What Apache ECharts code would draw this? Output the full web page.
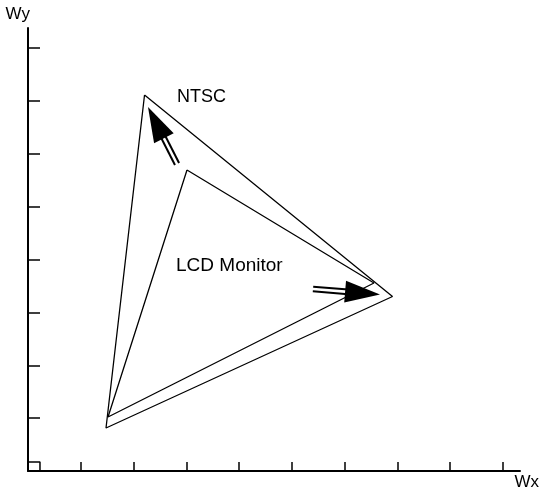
<!DOCTYPE html>
<html><head><meta charset="utf-8">
<script src="https://cdn.jsdelivr.net/npm/echarts@6/dist/echarts.min.js"></script>
<style>html,body{margin:0;padding:0;background:#fff}#c{width:540px;height:495px}</style>
</head><body><div id="c"></div>
<script>
// tick positions
const xTicks = [1, 2, 3, 4, 5, 6, 7, 8, 9];
const yTicks = [1, 2, 3, 4, 5, 6, 7, 8];
// NTSC gamut triangle (closed)
const ntscX = [2.209, 6.910, 1.479, 2.209];
const ntscY = [7.113, 3.301, 0.813, 7.113];
// LCD monitor gamut triangle (closed)
const lcdX = [3.014, 6.559, 1.517, 3.014];
const lcdY = [5.694, 3.557, 1.022, 5.694];
// arrows: tail -> tip
const arrowTail = [[2.825, 5.808], [5.403, 3.443]];
const arrowTip = [[2.275, 6.886], [6.673, 3.339]];
// annotation labels
const labelText = ['NTSC', 'LCD Monitor'];
const labelSize = [18, 19];
const labelPos = [[2.825, 7.066], [2.806, 3.880]];
// little corner box at origin
const cornerBoxX = [0, 0.227, 0.227];
const cornerBoxY = [0.17, 0.17, 0];

const zip = (xs, ys) => xs.map((x, i) => [x, ys[i]]);
const FONT = "'Liberation Sans', Arial, Helvetica, sans-serif";

const chart = echarts.init(document.getElementById('c'), null, {renderer: 'canvas'});
chart.setOption({
  animation: false,
  backgroundColor: '#fff',
  grid: {left: 28, right: 20, top: 28, bottom: 24, containLabel: false, outerBoundsMode: 'none'},
  xAxis: {
    type: 'value', min: 0, max: 9.327, interval: 1,
    name: 'Wx', nameLocation: 'end', nameGap: 19,
    nameTextStyle: {color: '#000', fontSize: 17, fontFamily: FONT, align: 'right', verticalAlign: 'top', padding: [3, 0, 0, 0]},
    axisLine: {show: true, lineStyle: {color: '#000', width: 2}},
    axisTick: {show: true, inside: true, length: 9, customValues: xTicks, lineStyle: {color: '#000', width: 1.5}},
    axisLabel: {show: false, customValues: xTicks},
    splitLine: {show: false}
  },
  yAxis: {
    type: 'value', min: 0, max: 8.38, interval: 1,
    name: 'Wy', nameLocation: 'end', nameGap: 5,
    nameTextStyle: {color: '#000', fontSize: 17, fontFamily: FONT, align: 'right', verticalAlign: 'bottom', padding: [0, -2, 0, 0]},
    axisLine: {show: true, lineStyle: {color: '#000', width: 2}},
    axisTick: {show: true, inside: true, length: 12, customValues: yTicks, lineStyle: {color: '#000', width: 1.5}},
    axisLabel: {show: false, customValues: yTicks},
    splitLine: {show: false}
  },
  series: [
    {type: 'line', data: zip(ntscX, ntscY), symbol: 'none', silent: true,
     lineStyle: {color: '#000', width: 1.3}},
    {type: 'line', data: zip(lcdX, lcdY), symbol: 'none', silent: true,
     lineStyle: {color: '#000', width: 1.3}},
    {type: 'line', data: zip(cornerBoxX, cornerBoxY), symbol: 'none', silent: true,
     lineStyle: {color: '#000', width: 1.5}},
    {type: 'custom', coordinateSystem: 'cartesian2d', silent: true,
     data: arrowTail.map((t, i) => [t[0], t[1], arrowTip[i][0], arrowTip[i][1]]),
     renderItem: function (params, api) {
       const a = api.coord([api.value(0), api.value(1)]);
       const b = api.coord([api.value(2), api.value(3)]);
       const dx = b[0] - a[0], dy = b[1] - a[1], len = Math.hypot(dx, dy);
       const ux = dx / len, uy = dy / len, nx = -uy, ny = ux;
       const L = 35, W = 11, g = 2.3;
       const bx = b[0] - ux * L, by = b[1] - uy * L;
       const shaft = s => ({type: 'line', shape: {x1: a[0] + nx * s, y1: a[1] + ny * s, x2: bx + ux * 3 + nx * s, y2: by + uy * 3 + ny * s},
         style: {stroke: '#000', lineWidth: 2}});
       return {type: 'group', children: [
         shaft(g), shaft(-g),
         {type: 'polygon', shape: {points: [[b[0], b[1]], [bx + nx * W, by + ny * W], [bx - nx * W, by - ny * W]]}, style: {fill: '#000'}}
       ]};
     }},
    {type: 'custom', coordinateSystem: 'cartesian2d', silent: true,
     data: labelPos.map((p, i) => [p[0], p[1], i]),
     renderItem: function (params, api) {
       const p = api.coord([api.value(0), api.value(1)]);
       const i = api.value(2);
       return {type: 'text', x: p[0], y: p[1],
         style: {text: labelText[i], fill: '#000', fontSize: labelSize[i], fontFamily: FONT, align: 'left', verticalAlign: 'middle'}};
     }}
  ]
});
</script>
</body></html>
